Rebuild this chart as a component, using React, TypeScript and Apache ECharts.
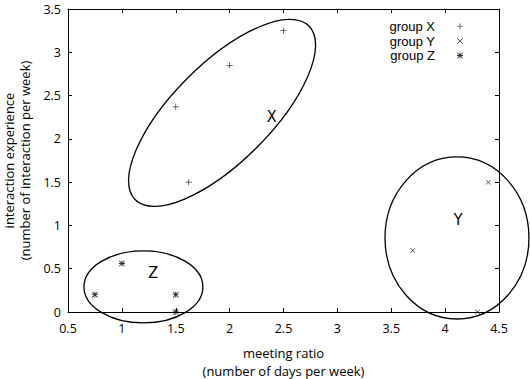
import React, { useEffect, useRef } from "react";
import * as echarts from "echarts";

const xTicks = [0.5, 4.5];
const yTicks = [0, 3.5];

const groupNames = ["group X", "group Y", "group Z"];
const groupXPoints = [
  [1.5, 2.37],
  [1.62, 1.5],
  [2.0, 2.85],
  [2.5, 3.25],
];
const groupYPoints = [
  [3.7, 0.71],
  [4.3, 0.0],
  [4.4, 1.5],
];
const groupZPoints = [
  [0.75, 0.2],
  [1.0, 0.56],
  [1.5, 0.2],
  [1.5, 0.0],
];

const clusterNames = ["X", "Y", "Z"];
const clusterCenterX = [1.93, 4.11, 1.2];
const clusterCenterY = [2.3, 0.855, 0.29];
const clusterRadiusX = [1.14, 0.668, 0.552];
const clusterRadiusY = [0.566, 0.936, 0.416];
const clusterAngle = [45, 0, 0];
const clusterLabelX = [2.39, 4.12, 1.29];
const clusterLabelY = [2.26, 1.07, 0.46];

const PLUS = "path://M4.4,0H5.6V4.4H10V5.6H5.6V10H4.4V5.6H0V4.4H4.4Z";
const CROSS =
  "path://M0.8,0L5,4.2L9.2,0L10,0.8L5.8,5L10,9.2L9.2,10L5,5.8L0.8,10L0,9.2L4.2,5L0,0.8Z";
const STAR =
  "path://M4.3,0H5.7V4.3H10V5.7H5.7V10H4.3V5.7H0V4.3H4.3Z M1,0L5,4L9,0L10,1L6,5L10,9L9,10L5,6L1,10L0,9L4,5L0,1Z";

const FONT = "'Open Sans', 'DejaVu Sans', sans-serif";
const LEGEND_FONT = "'Liberation Sans', Arial, sans-serif";

export default function App() {
  const ref = useRef<HTMLDivElement>(null);
  useEffect(() => {
    if (!ref.current) return;
    const chart = echarts.init(ref.current, undefined, { renderer: "svg" });
    const clusterData = clusterNames.map((_, i) => [
      clusterCenterX[i],
      clusterCenterY[i],
      clusterRadiusX[i],
      clusterRadiusY[i],
      clusterAngle[i],
      clusterLabelX[i],
      clusterLabelY[i],
    ]);
    const axisCommon = {
      type: "value" as const,
      axisLine: { show: true, onZero: false, lineStyle: { color: "#000", width: 1 } },
      axisTick: { show: true, inside: true, length: 4, lineStyle: { color: "#000" } },
      splitLine: { show: false },
    };
    chart.setOption({
      animation: false,
      backgroundColor: "#fff",
      textStyle: { fontFamily: FONT },
      grid: {
        left: 68,
        right: 31,
        top: 9,
        bottom: 67,
        containLabel: false,
        outerBoundsMode: "none",
      },
      legend: {
        data: groupNames,
        orient: "vertical",
        align: "right",
        right: 62,
        top: 15,
        itemWidth: 6,
        itemHeight: 6,
        itemGap: 1.5,
        selectedMode: false,
        textStyle: {
          fontFamily: LEGEND_FONT,
          fontSize: 13,
          color: "#000",
          lineHeight: 13,
          padding: [0, 17, 0, 0],
        },
      },
      xAxis: [
        {
          ...axisCommon,
          min: xTicks[0],
          max: xTicks[1],
          interval: 0.5,
          axisLabel: { color: "#000", fontSize: 12.5, margin: 10, fontFamily: FONT },
          name: "meeting ratio\n(number of days per week)",
          nameLocation: "middle",
          nameGap: 32,
          nameTextStyle: { color: "#000", fontSize: 13, lineHeight: 18, fontFamily: FONT },
        },
        {
          ...axisCommon,
          position: "top",
          min: xTicks[0],
          max: xTicks[1],
          interval: 0.5,
          axisLabel: { show: false },
        },
      ],
      yAxis: [
        {
          ...axisCommon,
          min: yTicks[0],
          max: yTicks[1],
          interval: 0.5,
          axisLabel: { color: "#000", fontSize: 12.5, margin: 7, fontFamily: FONT },
          name: "interaction experience\n(number of interaction per week)",
          nameLocation: "middle",
          nameGap: 31,
          nameTextStyle: { color: "#000", fontSize: 13, lineHeight: 16, fontFamily: FONT },
        },
        {
          ...axisCommon,
          position: "right",
          min: yTicks[0],
          max: yTicks[1],
          interval: 0.5,
          axisLabel: { show: false },
        },
      ],
      series: [
        {
          type: "custom",
          name: "clusters",
          clip: false,
          silent: true,
          encode: { x: 0, y: 1 },
          data: clusterData,
          renderItem: (params: any, api: any) => {
            const c = api.coord([api.value(0), api.value(1)]);
            const ux = api.size([1, 0])[0];
            const uy = api.size([0, 1])[1];
            const l = api.coord([api.value(5), api.value(6)]);
            return {
              type: "group",
              children: [
                {
                  type: "ellipse",
                  x: c[0],
                  y: c[1],
                  rotation: (api.value(4) * Math.PI) / 180,
                  shape: { cx: 0, cy: 0, rx: api.value(2) * ux, ry: api.value(3) * uy },
                  style: { fill: "none", stroke: "#000", lineWidth: 1.3 },
                },
                {
                  type: "text",
                  x: l[0],
                  y: l[1],
                  style: {
                    text: clusterNames[params.dataIndex],
                    fill: "#000",
                    fontSize: 16,
                    fontFamily: "'DejaVu Sans Condensed', 'DejaVu Sans', sans-serif",
                    align: "center",
                    verticalAlign: "middle",
                  },
                },
              ],
            };
          },
        },
        {
          type: "scatter",
          name: groupNames[0],
          symbol: PLUS,
          symbolSize: 6,
          itemStyle: { color: "#000" },
          data: groupXPoints,
        },
        {
          type: "scatter",
          name: groupNames[1],
          symbol: CROSS,
          symbolSize: 5,
          itemStyle: { color: "#000" },
          data: groupYPoints,
        },
        {
          type: "scatter",
          name: groupNames[2],
          symbol: STAR,
          symbolSize: 6,
          itemStyle: { color: "#000" },
          data: groupZPoints,
        },
      ],
    });
    return () => chart.dispose();
  }, []);
  return (
    <div
      ref={ref}
      style={{ position: "absolute", left: 0, top: 0, width: 530, height: 379 }}
    />
  );
}
